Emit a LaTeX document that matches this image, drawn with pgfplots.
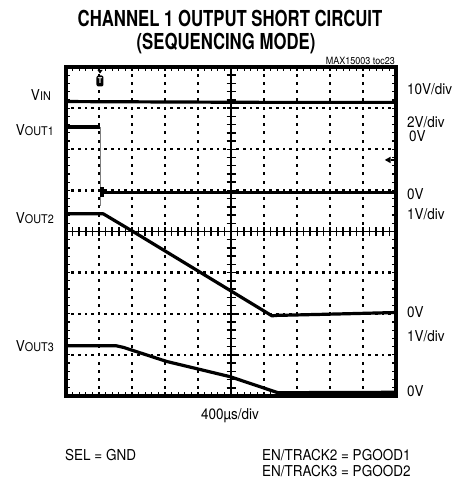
\documentclass[border=0pt]{standalone}
\usepackage{fontspec}
\setmainfont{TeX Gyre Heros}[FakeStretch=0.9]
\newfontfamily\titlefont{TeX Gyre Heros}[FakeStretch=0.76]
\usepackage{pgfplots}
\pgfplotsset{compat=1.18}

\tikzset{trace/.style={black, line width=3.2bp, line join=round, no markers},
         lbl/.style={font=\fontsize{15bp}{18bp}\selectfont, inner sep=0pt},
         cross/.style={black, line width=1.5bp}}
\newcommand{\vsub}[1]{V{\fontsize{12bp}{14bp}\selectfont #1}}

\begin{document}
\begin{tikzpicture}
\path[use as bounding box] (0bp,0bp) rectangle (455bp,486bp);

% dotted graticule (screen is 330bp x 329bp, lower left at 66bp,90bp)
\begin{scope}[x=1bp, y=1bp]
\foreach \i in {1,2,3,4,6,7,8,9}
  \foreach \j in {1,...,39}
    \fill[black] ({66+33*\i-1.2},{90+8.225*\j-1.5}) rectangle +(2.4,3);
\foreach \k in {1,2,3,5,6,7}
  \foreach \m in {1,...,49}
    \fill[black] ({66+6.6*\m-1.3},{90+41.125*\k-1.2}) rectangle +(2.6,2.4);
\end{scope}

% scope screen
\begin{axis}[at={(66bp,90bp)}, anchor=south west, scale only axis,
  width=330bp, height=329bp,
  xmin=0, xmax=10, ymin=0, ymax=8,
  xtick distance=1, ytick distance=1,
  minor x tick num=4, minor y tick num=4,
  xticklabels={}, yticklabels={},
  tick align=inside, major tick length=4bp, minor tick length=4bp,
  tick style={black, line width=1.2bp},
  axis line style={line width=3.2bp},
  clip=false]

% centre crosshair with its small ticks
\draw[cross] (axis cs:5,0) -- (axis cs:5,8);
\draw[cross] (axis cs:0,4) -- (axis cs:10,4);
\pgfplotsinvokeforeach{0.2,0.4,...,9.9}{
  \draw[cross] ([yshift=-4.5bp]axis cs:#1,4) -- ([yshift=4.5bp]axis cs:#1,4);}
\pgfplotsinvokeforeach{0.2,0.4,...,7.9}{
  \draw[cross] ([xshift=-4.5bp]axis cs:5,#1) -- ([xshift=4.5bp]axis cs:5,#1);}

% VIN
\addplot[trace] coordinates {(0,7.16) (3,7.15) (6,7.14) (10,7.14)};
% VOUT1
\addplot[trace] coordinates {(0,6.54) (1.03,6.54)};
\addplot[gray, line width=0.9bp] coordinates {(1.03,6.54) (1.03,4.62)};
\addplot[trace] coordinates {(1.09,4.84) (1.09,5.07)};
\addplot[trace] coordinates {(1.1,4.95) (5,4.95) (10,4.95)};
% VOUT2
\addplot[trace] coordinates {(0,4.43) (1.13,4.43) (2.03,4.0) (6.24,1.95)
  (6.4,1.96) (8,1.99) (10,2.03)};
% VOUT3
\addplot[trace] coordinates {(0,1.22) (1.53,1.22) (1.75,1.18) (1.94,1.13)
  (3.05,0.84) (4.97,0.47) (6.42,0.08) (10,0.09)};

% trigger marker and ground marker
\node[fill=black, rounded corners=2bp, minimum width=7bp, minimum height=11bp,
  inner sep=0pt, text=white, font=\fontsize{8bp}{8bp}\selectfont\bfseries]
  at (axis cs:1.03,7.66) {T};
\fill (axis cs:0.95,7.93) -- (axis cs:1.11,7.93) -- (axis cs:1.03,7.84) -- cycle;
\fill (axis cs:9.66,5.74) -- (axis cs:9.84,5.82) -- (axis cs:9.84,5.66) -- cycle;
\draw[line width=1.2bp] (axis cs:9.84,5.74) -- (axis cs:10,5.74);
\end{axis}

% titles
\node[anchor=base, inner sep=0pt] at (230bp,459bp)
  {\titlefont\bfseries\fontsize{22bp}{26bp}\selectfont CHANNEL 1 OUTPUT SHORT CIRCUIT};
\node[anchor=base, inner sep=0pt] at (226bp,436bp)
  {\titlefont\bfseries\fontsize{22bp}{26bp}\selectfont (SEQUENCING MODE)};
\node[anchor=base east, inner sep=0pt, font=\fontsize{10bp}{12bp}\selectfont]
  at (395bp,421bp) {MAX15003 toc23};

% channel names
\node[lbl, anchor=base east] at (51bp,385bp) {\vsub{IN}};
\node[lbl, anchor=base east] at (54bp,350bp) {\vsub{OUT1}};
\node[lbl, anchor=base east] at (54bp,262bp) {\vsub{OUT2}};
\node[lbl, anchor=base east] at (54bp,134bp) {\vsub{OUT3}};

% scales
\node[lbl, anchor=base west] at (407bp,391bp) {10V/div};
\node[lbl, anchor=base west] at (407bp,358bp) {2V/div};
\node[lbl, anchor=base west] at (409bp,344bp) {0V};
\node[lbl, anchor=base west] at (407bp,286bp) {0V};
\node[lbl, anchor=base west] at (407bp,266bp) {1V/div};
\node[lbl, anchor=base west] at (407bp,168bp) {0V};
\node[lbl, anchor=base west] at (407bp,144bp) {1V/div};
\node[lbl, anchor=base west] at (407bp,89bp) {0V};

% bottom notes
\node[lbl, anchor=base] at (230bp,66bp) {400µs/div};
\node[lbl, anchor=base west] at (65bp,26bp) {SEL = GND};
\node[lbl, anchor=base west] at (262bp,26bp) {EN/TRACK2 = PGOOD1};
\node[lbl, anchor=base west] at (262bp,10bp) {EN/TRACK3 = PGOOD2};
\end{tikzpicture}
\end{document}
